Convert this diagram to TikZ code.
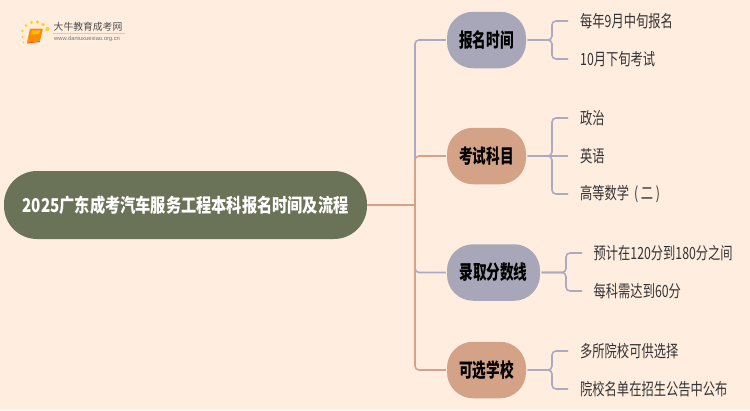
\documentclass[tikz,border=0pt]{standalone}
\usepackage{fontspec}
\setmainfont{Liberation Sans}
\newfontfamily\cjk[FakeStretch=0.73]{Noto Sans CJK SC}
\newfontfamily\cjkb[FakeStretch=0.7]{Noto Sans CJK SC}
\newfontfamily\cjkroot[FakeStretch=0.8]{Noto Sans CJK SC}
\newfontfamily\cjklogo{Noto Sans CJK SC}
\definecolor{bgc}{HTML}{FFEEE0}
\definecolor{rootc}{HTML}{6A7358}
\definecolor{bluec}{HTML}{A7A7B9}
\definecolor{orc}{HTML}{D3A287}
\definecolor{linkb}{HTML}{A9ABC3}
\definecolor{txtc}{HTML}{333333}
\tikzset{
  x=1pt,y=-1pt,
  rootbox/.style={fill=rootc,rounded corners=33pt,minimum width=363pt,minimum height=68pt,inner sep=0pt,text=white,font=\cjkroot\bfseries\fontsize{19}{22}\selectfont},
  topicb/.style={fill=bluec,rounded corners=26pt,minimum height=56.5pt,inner sep=0pt,font=\cjkb\bfseries\fontsize{19.5}{22}\selectfont,text=black},
  topico/.style={topicb,fill=orc},
  leaf/.style={anchor=west,inner sep=0pt,text=txtc,font=\cjk\fontsize{16.8}{19}\selectfont},
  linko/.style={draw=orc,line width=1.6pt,rounded corners=4pt},
  linkc/.style={draw=linkb,line width=1.6pt,rounded corners=4pt},
  dotc/.style={fill=yellow!65!orange,opacity=.85},
}
\begin{document}
\begin{tikzpicture}
\useasboundingbox (0,0) rectangle (750,410);
\fill[bgc] (0,0) rectangle (750,410);
% logo
\fill[dotc] (47.5,29) circle (2.2);
\fill[dotc] (43,24.5) circle (1.9);
\fill[dotc] (37.5,22) circle (1.8);
\fill[dotc] (31.5,22.5) circle (1.7);
\fill[dotc] (26,25.5) circle (1.5);
\fill[dotc] (22.5,31) circle (1.3);
\fill[dotc] (22.5,37) circle (1.1);
\fill[dotc] (23.5,42.5) circle (.8);
\fill[orange!90!yellow,rounded corners=1pt] (30,28.5) -- (43,28.5) -- (40,41) -- (27,42.5) -- cycle;
\fill[orange!70!red] (27,42.5) -- (40,41) -- (39.8,42) -- (27.5,43.5) -- cycle;
\fill[yellow!55!orange] (32,30.5) -- (40,30.5) -- (39,34) -- (31,34.5) -- cycle;
\node[inner sep=0pt,anchor=west,text=black!70,font=\cjklogo\fontsize{9.8}{11}\selectfont] (logot) at (53.5,26.5) {大牛教育成考网};
\node[inner sep=0pt,anchor=west,text=black!55,font=\fontsize{5.8}{7}\selectfont] (logou) at (54,39) {www.daniuxuexiao.org.cn};
\fill[black!20] (53,33) rectangle (125,33.6);
% nodes
\node[rootbox] (root) at (185.5,205) {2025广东成考汽车服务工程本科报名时间及流程};
\node[topicb,minimum width=79pt] (t1) at (486.5,40) {报名时间};
\node[topico,minimum width=79pt] (t2) at (486.5,156) {考试科目};
\node[topicb,minimum width=93pt] (t3) at (493.5,272.5) {录取分数线};
\node[topico,minimum width=79pt] (t4) at (486.5,370) {可选学校};
\node[leaf] (a1) at (580,21) {每年9月中旬报名};
\node[leaf] (a2) at (580,59) {10月下旬考试};
\node[leaf] (b1) at (580,118) {政治};
\node[leaf] (b2) at (580,156) {英语};
\node[leaf] (b3) at (580,194) {高等数学\kern2pt{} ( 二 )};
\node[leaf] (c1) at (593.5,253) {预计在120分到180分之间};
\node[leaf] (c2) at (593.5,291) {每科需达到60分};
\node[leaf] (d1) at (580,351) {多所院校可供选择};
\node[leaf] (d2) at (580,389) {院校名单在招生公告中公布};
\coordinate (trunk) at (415,205);
% trunk connectors
\draw[linkc] (trunk) -- (trunk |- t1) -- ([xshift=-1pt]t1.west);
\draw[linkc] (trunk) -- (trunk |- t3) -- ([xshift=-1pt]t3.west);
\draw[linko] (trunk) -- (trunk |- t2) -- ([xshift=-1pt]t2.west);
\draw[linko] (trunk) -- (trunk |- t4) -- ([xshift=-1pt]t4.west);
\draw[linko] (root.east) -- (trunk);
% leaf connectors
\foreach \t/\l/\bx/\ex in {t1/a1/552/568,t1/a2/552/568,t2/b1/552/568,t2/b3/552/568,t3/c1/566/582,t3/c2/566/582,t4/d1/552/568,t4/d2/552/568}{
  \draw[linkc] ([xshift=1.5pt]\t.east) -- (\bx,0 |- \t.east) -- (\bx,0 |- \l.west) -- (\ex,0 |- \l.west);
}
\draw[linkc] ([xshift=1.5pt]t2.east) -- (568,0 |- t2.east);
\end{tikzpicture}
\end{document}
